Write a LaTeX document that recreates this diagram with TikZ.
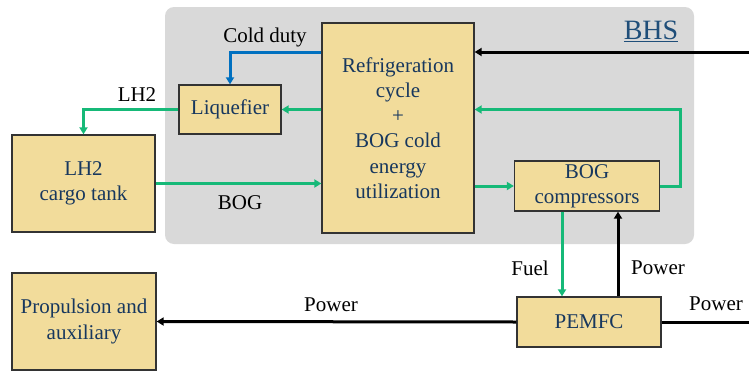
\documentclass[tikz,border=0pt]{standalone}
\usepackage{fontspec}
\setmainfont{Liberation Serif}
\usetikzlibrary{arrows.meta,calc}
\definecolor{boxfill}{RGB}{242,220,155}
\definecolor{navy}{RGB}{23,55,94}
\definecolor{bhsblue}{RGB}{31,78,121}
\definecolor{flowgreen}{RGB}{22,185,120}
\definecolor{coldblue}{RGB}{0,112,192}
\definecolor{panel}{RGB}{217,217,217}
\begin{document}
\begin{tikzpicture}[x=1pt,y=-1pt,
  every node/.style={font=\fontsize{21}{25.3}\selectfont},
  blk/.style={draw=black!80,line width=1.3pt,fill=boxfill,text=navy,align=center,inner sep=0pt},
  lbl/.style={text=black},
  gflow/.style={draw=flowgreen,line width=3pt,-{Triangle[length=7pt,width=8pt]}},
  bflow/.style={draw=black,line width=3pt,-{Triangle[length=7pt,width=8pt]}},
  cflow/.style={draw=coldblue,line width=3pt,-{Triangle[length=7pt,width=8pt]}}]
\useasboundingbox (0,0) rectangle (749,372);
\fill[panel,rounded corners=9pt] (165,7) rectangle (694,244);
\node[text=bhsblue,font=\fontsize{28}{30}\selectfont] (bhs) at (651,31) {\underline{BHS}};
\node[blk,minimum width=152pt,minimum height=210pt] (ref) at (398,128)
  {Refrigeration\\cycle\\+\\BOG cold\\energy\\utilization};
\node[blk,minimum width=102pt,minimum height=49pt] (liq) at (230,109.5) {Liquefier};
\node[blk,minimum width=143pt,minimum height=97pt] (tank) at (83.5,183.5) {LH2\\cargo tank};
\node[blk,minimum width=145pt,minimum height=50pt] (comp) at (587,186) {BOG\\compressors};
\node[blk,minimum width=144pt,minimum height=97pt] (prop) at (84,321.5) {Propulsion and\\auxiliary};
\node[blk,minimum width=144pt,minimum height=50pt] (pem) at (589,322) {PEMFC};
\coordinate (edgetop) at (749,52);
\coordinate (edgebot) at (749,322);
% connectors
\draw[cflow] (ref.west |- edgetop) -| (liq.north);
\draw[gflow] (ref.west |- liq.east) -- (liq.east);
\draw[gflow] (liq.west) -| (tank.north);
\draw[gflow] (tank.east) -- (ref.west |- tank.east);
\draw[gflow] (ref.east |- comp.west) -- (comp.west);
\draw[gflow] (comp.east) -- ++(20.5,0) |- (ref.east |- liq.east);
\draw[bflow] (edgetop) -- (ref.east |- edgetop);
\draw[gflow] ([xshift=-25pt]comp.south) -- ([xshift=-25pt]comp.south |- pem.north);
\draw[bflow] ([xshift=29pt]pem.north) -- ([xshift=29pt]pem.north |- comp.south);
\draw[bflow] (pem.west) -- (prop.east);
\draw[draw=black,line width=3pt] (pem.east) -- (edgebot);
% labels
\node[lbl] (lcold) at (265,37) {Cold duty};
\node[lbl] (llh2) at (137,95) {LH2};
\node[lbl] (lbog) at (240,203) {BOG};
\node[lbl] (lfuel) at (530,268) {Fuel};
\node[lbl] (lpow1) at (658,268) {Power};
\node[lbl] (lpow2) at (331,305) {Power};
\node[lbl] (lpow3) at (716,304) {Power};
\end{tikzpicture}
\end{document}
